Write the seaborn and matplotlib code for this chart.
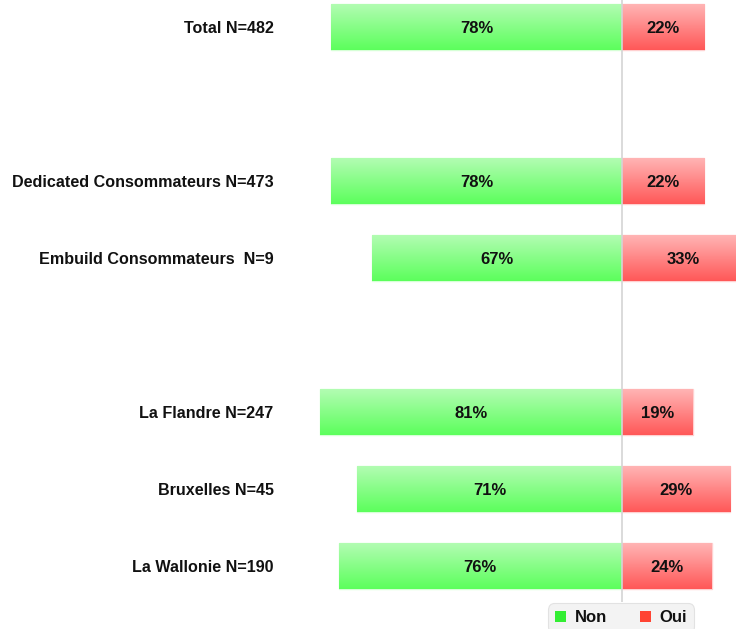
import numpy as np
import pandas as pd
import matplotlib
matplotlib.use("Agg")
import matplotlib.pyplot as plt
from matplotlib.patches import Patch
from matplotlib.colors import to_rgb
import seaborn as sns

categories = ["Total N=482", "Dedicated Consommateurs N=473", "Embuild Consommateurs  N=9",
              "La Flandre N=247", "Bruxelles N=45", "La Wallonie N=190"]
non_values = [78, 78, 67, 81, 71, 76]
oui_values = [22, 22, 33, 19, 29, 24]
order = ["Total N=482", " ", "Dedicated Consommateurs N=473", "Embuild Consommateurs  N=9",
         "  ", "La Flandre N=247", "Bruxelles N=45", "La Wallonie N=190"]
series = ["Non", "Oui"]

sns.set_style("white")
plt.rcParams["font.family"] = ["Liberation Sans", "DejaVu Sans"]

fig = plt.figure(figsize=(7.36, 6.29), dpi=100)
ax = fig.add_axes([300 / 736, 1 - 602 / 629, 436 / 736, 602 / 629])

df_non = pd.DataFrame({"cat": categories, "val": [-v for v in non_values]})
df_oui = pd.DataFrame({"cat": categories, "val": oui_values})

sns.barplot(data=df_non, x="val", y="cat", order=order, orient="y", width=0.6,
            color="#66ff66", errorbar=None, ax=ax)
n_non = len(ax.patches)
sns.barplot(data=df_oui, x="val", y="cat", order=order, orient="y", width=0.6,
            color="#ff5a5a", errorbar=None, ax=ax)

grad_colors = {"Non": ("#b4fcb4", "#5cff5c"), "Oui": ("#ffb6b6", "#ff5858")}
edge_colors = {"Non": "#d6ffd6", "Oui": "#ffd0d0"}
for i, p in enumerate(ax.patches):
    w = p.get_width()
    if not np.isfinite(w) or w == 0:
        continue
    s = "Non" if i < n_non else "Oui"
    top, bot = np.array(to_rgb(grad_colors[s][0])), np.array(to_rgb(grad_colors[s][1]))
    t = np.linspace(0, 1, 64)[:, None, None]
    img = top * (1 - t) + bot * t
    x0, y0 = p.get_x(), p.get_y()
    x1, y1 = x0 + w, y0 + p.get_height()
    im = ax.imshow(img, extent=(min(x0, x1), max(x0, x1), max(y0, y1), min(y0, y1)),
                   origin="upper", aspect="auto", zorder=2)
    im.set_clip_path(p)
    p.set_edgecolor(edge_colors[s])
    p.set_linewidth(1.0)
    p.set_zorder(1)
    cx = x0 + w / 2
    cy = y0 + p.get_height() / 2 + 0.02
    ax.text(cx, cy, f"{abs(int(round(w)))}%", ha="center", va="center",
            fontsize=12, fontweight="bold", color="#111111", zorder=4)

ax.set_xlim(-(622 - 300) / 3.73, (736 - 622) / 3.73)
ax.set_ylim(7.47, -0.35)
ax.axvline(0, color="#d4d4d4", lw=1.2, zorder=3)

for sp in ax.spines.values():
    sp.set_visible(False)
ax.set_xticks([])
ax.set_xlabel("")
ax.set_ylabel("")
ax.tick_params(axis="y", length=0, pad=19)
for lab in ax.get_yticklabels():
    lab.set_fontweight("bold")
    lab.set_fontsize(11.6)
    lab.set_color("#111111")

handles = [Patch(facecolor="#33ee33", edgecolor="none", label="Non"),
           Patch(facecolor="#ff4433", edgecolor="none", label="Oui")]
leg = fig.legend(handles=handles, loc="center", bbox_to_anchor=(621 / 736, 1 - 618 / 629),
                 ncol=2, frameon=True, fancybox=True, facecolor="#f0f0f0", edgecolor="#dddddd",
                 handlelength=0.65, handleheight=0.65, handletextpad=0.5, columnspacing=2.0,
                 borderpad=0.45, borderaxespad=0, prop={"weight": "bold", "size": 12})
leg.get_frame().set_linewidth(0.8)
leg.get_frame().set_boxstyle("round", pad=0.0, rounding_size=0.4)
for t in leg.get_texts():
    t.set_color("#111111")

fig.savefig("out.png", dpi=100)
